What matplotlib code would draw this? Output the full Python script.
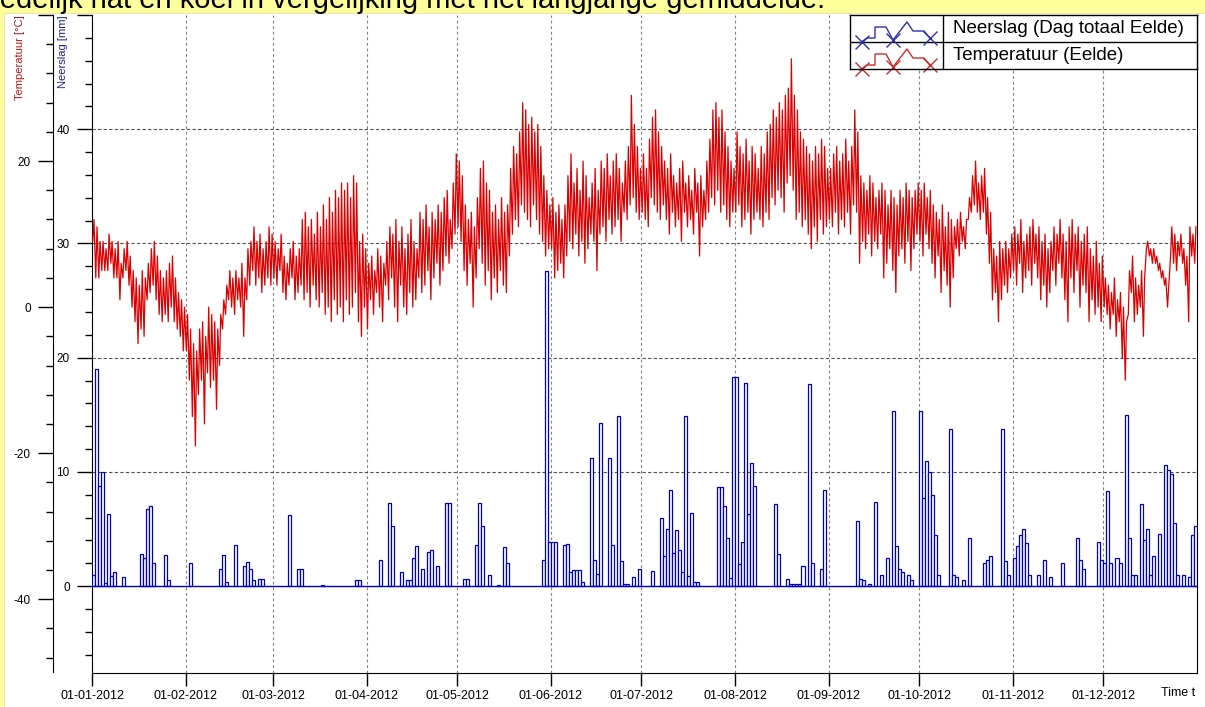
import numpy as np
from matplotlib import pyplot as plt
from matplotlib.patches import Rectangle

plt.rcParams['font.family'] = ['Liberation Sans', 'DejaVu Sans']

# x axis: day number since 01-01-2012 (leap year, 366 days)
month_start = [0, 31, 60, 91, 121, 152, 182, 213, 244, 274, 305, 335]
month_label = ['01-01-2012', '01-02-2012', '01-03-2012', '01-04-2012',
               '01-05-2012', '01-06-2012', '01-07-2012', '01-08-2012',
               '01-09-2012', '01-10-2012', '01-11-2012', '01-12-2012']
n_days = 366

# daily max / min temperature Eelde [C]
tmax = [12, 11, 9, 9, 8, 10, 9, 8, 9, 6, 8, 9, 7, 5, 4, 3, 5, 4, 6, 8, 9, 7, 5, 4, 5, 6, 7, 4, 2, 1, 0,
        -1, -3, -5, -6, -3, -2, -4, 0, -1, -2, -3, -1, 1, 3, 5, 4, 5, 4, 6, 4, 8, 9, 11, 9, 10, 8, 9, 11, 10,
        9, 8, 10, 7, 6, 8, 9, 7, 8, 12, 13, 11, 12, 10, 13, 11, 14, 12, 15, 13, 16, 15, 17, 16, 17, 15, 18, 17, 9, 10, 8,
        6, 7, 5, 8, 7, 6, 9, 11, 10, 12, 9, 11, 8, 10, 12, 9, 8, 13, 12, 14, 11, 13, 12, 14, 13, 15, 16, 12, 17, 21,
        20, 18, 14, 12, 13, 11, 15, 19, 20, 17, 16, 13, 14, 12, 15, 13, 14, 19, 22, 21, 24, 28, 27, 25, 26, 24, 25, 22, 18, 16, 14,
        15, 13, 14, 12, 14, 18, 21, 17, 19, 16, 20, 18, 15, 17, 19, 16, 20, 19, 21, 18, 20, 21, 19, 17, 20, 22, 29, 25, 22, 19,
        21, 19, 23, 26, 27, 24, 22, 20, 19, 21, 18, 17, 19, 20, 17, 18, 16, 19, 17, 18, 16, 20, 23, 27, 28, 26, 27, 24, 22, 20, 19,
        24, 22, 21, 23, 20, 22, 21, 19, 22, 21, 24, 25, 27, 26, 28, 27, 29, 30, 34, 29, 27, 24, 23, 22, 21, 20, 22, 21, 23, 22, 19,
        19, 21, 22, 20, 21, 23, 20, 22, 27, 24, 18, 17, 16, 18, 17, 15, 16, 17, 16, 14, 16, 15, 14, 16, 15, 17, 16, 15, 16, 17,
        16, 17, 15, 16, 14, 13, 12, 14, 11, 13, 12, 11, 12, 13, 11, 12, 15, 18, 20, 17, 18, 19, 15, 13, 8, 7, 9, 8, 9, 8, 10,
        11, 10, 12, 9, 10, 11, 12, 10, 11, 9, 10, 8, 9, 11, 10, 12, 10, 9, 11, 12, 10, 11, 9, 10, 11, 8, 7, 9, 6, 7,
        4, 3, 2, 4, 1, 2, 0, -2, 5, 7, 4, 3, 5, 4, 9, 8, 8, 7, 6, 5, 4, 3, 11, 10, 9, 10, 8, 7, 11, 10, 11]
tmin = [9, 4, 4, 5, 5, 5, 6, 4, 4, 1, 4, 5, 3, 0, -2, -5, -3, -4, 1, 2, 3, 1, -1, -2, -1, -2, 0, -2, -3, -4, -6,
        -6, -10, -15, -19, -12, -10, -16, -9, -11, -10, -14, -8, -3, -1, 1, 0, -1, 1, 0, -4, 1, 3, 5, 3, 4, 2, 3, 4, 3,
        4, 3, 5, 2, 1, 3, 4, 1, 2, 3, 1, 2, 0, 3, 1, 0, 2, -1, 0, -2, 1, -1, 0, -2, 1, -1, 0, 2, -2, -4, 0,
        -3, 1, -1, 2, 0, -2, 3, 1, 4, 0, -2, 3, 0, -1, 2, 0, 1, 4, 2, 3, 5, 1, 4, 6, 3, 5, 7, 6, 8, 10,
        11, 9, 5, 3, 6, 0, 4, 8, 6, 3, 5, 1, 4, 2, 5, 3, 2, 7, 10, 12, 11, 14, 13, 12, 11, 14, 12, 10, 9, 7, 8,
        8, 4, 5, 6, 4, 7, 9, 8, 10, 7, 9, 6, 8, 10, 9, 5, 10, 11, 9, 12, 10, 11, 12, 9, 13, 12, 14, 15, 13, 12,
        13, 12, 11, 15, 14, 13, 12, 14, 12, 10, 13, 11, 12, 9, 13, 11, 12, 10, 13, 7, 11, 12, 13, 15, 14, 16, 13, 14, 12, 11, 13,
        13, 14, 11, 12, 13, 10, 12, 13, 12, 11, 13, 12, 15, 14, 16, 15, 13, 17, 18, 16, 12, 13, 11, 12, 10, 8, 11, 9, 12, 10, 11,
        12, 11, 13, 10, 12, 11, 13, 10, 14, 13, 6, 9, 8, 10, 7, 9, 8, 10, 4, 6, 8, 5, 2, 7, 8, 6, 9, 5, 8, 10,
        9, 7, 10, 8, 6, 4, 7, 2, 5, 3, 0, 4, 8, 7, 9, 8, 12, 13, 14, 13, 12, 13, 10, 6, 1, 2, -2, 1, 3, 2, 4,
        5, 3, 6, 2, 4, 5, 3, 6, 4, 1, 3, 0, 2, 5, 3, 6, 4, 1, -2, 4, 2, 5, 0, 3, 2, -2, 1, -1, 0, -2,
        0, -1, -3, -1, -4, -2, -7, -10, -1, 2, -2, -1, 0, -4, 8, 7, 6, 6, 5, 4, 3, 0, 7, 6, 5, 7, 6, 3, -2, 7, 6]

# daily precipitation Eelde [mm] (only the wet days)
rain_day = [0, 1, 2, 3, 4, 5, 6, 7, 10, 16, 17, 18, 19, 20, 24, 25,
            32, 42, 43, 44, 47, 50, 51, 52, 53, 55, 56,
            65, 68, 69, 76, 87, 88,
            95, 98, 99, 102, 104, 105, 106, 107, 109, 111, 112, 114, 117, 118,
            123, 124, 127, 128, 129, 131, 134, 136, 137, 149, 150,
            151, 152, 153, 156, 157, 158, 159, 160, 161, 162, 165, 166, 167, 168, 171, 172, 174, 175, 176, 177, 179, 181,
            185, 188, 189, 190, 191, 192, 193, 194, 195, 196, 197, 198, 199, 200, 207, 208, 209, 210, 211,
            212, 213, 214, 215, 216, 217, 218, 219, 226, 227, 230, 231, 232, 233, 234, 235, 237, 238, 241, 242,
            253, 254, 255, 257, 259, 261, 263, 265, 266, 267, 268, 270, 271,
            274, 275, 276, 277, 278, 279, 280, 284, 285, 286, 288, 290, 295, 296, 297, 301, 302, 303,
            305, 306, 307, 308, 309, 310, 313, 315, 317, 321, 326, 327, 328, 333, 334,
            335, 336, 337, 339, 340, 342, 343, 344, 345, 347, 348, 349, 350, 351, 353, 355, 356, 357, 358, 359, 361, 363, 364, 365]
rain_mm = [1.0, 19.0, 8.8, 10.0, 0.3, 6.3, 0.9, 1.2, 0.8, 2.8, 2.5, 6.8, 7.0, 2.0, 2.7, 0.5,
           2.0, 1.5, 2.7, 0.4, 3.6, 1.8, 2.1, 1.5, 0.5, 0.6, 0.6,
           6.2, 1.5, 1.5, 0.1, 0.5, 0.5,
           2.3, 7.3, 5.3, 1.2, 0.5, 0.5, 2.5, 3.5, 1.5, 3.0, 3.2, 1.8, 7.3, 7.3,
           0.6, 0.6, 3.6, 7.3, 5.3, 1.0, 0.1, 3.4, 2.0, 2.3, 27.6,
           3.9, 3.9, 3.9, 3.6, 3.7, 1.25, 1.4, 1.4, 1.4, 0.4, 11.2, 2.3, 1.1, 14.3, 11.2, 3.6, 14.9, 2.2, 0.2, 0.2, 0.8, 1.5,
           1.3, 6.0, 2.6, 5.0, 8.4, 2.9, 4.9, 3.2, 1.2, 14.9, 0.9, 6.4, 0.4, 0.4, 8.7, 8.7, 7.0, 4.2, 0.7,
           18.3, 18.3, 1.9, 3.9, 17.8, 6.3, 10.8, 8.8, 7.2, 2.8, 0.6, 0.2, 0.2, 0.2, 0.2, 1.8, 17.7, 2.0, 1.5, 8.4,
           5.7, 0.6, 0.5, 0.2, 7.4, 1.0, 2.5, 15.3, 3.5, 1.5, 1.2, 1.0, 0.5,
           15.3, 7.7, 11.0, 10.0, 8.0, 4.5, 1.0, 13.8, 1.0, 0.8, 0.5, 4.2, 2.0, 2.3, 2.6, 13.8, 2.2, 1.0,
           2.5, 3.5, 4.5, 5.0, 3.8, 1.0, 1.0, 2.3, 0.8, 2.0, 4.2, 2.3, 1.5, 3.9, 2.3,
           2.0, 8.3, 2.0, 2.5, 2.0, 15.0, 4.2, 1.0, 1.0, 7.2, 4.0, 5.0, 1.0, 2.6, 4.6, 10.6, 10.2, 9.8, 5.5, 1.0, 1.0, 0.8, 4.5, 5.3]

rain_major = [0, 10, 20, 30, 40, 50]
temp_major = [-40, -20, 0, 20, 40]

W, H = 1205, 707


def fx(px):
    return px / W


def fy(py):
    return 1 - py / H


fig = plt.figure(figsize=(W / 100, H / 100), dpi=100, facecolor='#ffff9c')
fig.patches.append(Rectangle((fx(4), 0), 1, fy(13), transform=fig.transFigure,
                             facecolor='white', edgecolor='#e8e8b0', lw=0.8, zorder=-5))
# page text above the chart, cut off by the screenshot edge as in the original
fig.text(fx(-10), fy(8), 'redelijk nat en koel in vergelijking met het langjarige gemiddelde.',
         fontsize=21, va='baseline', ha='left', color='black', zorder=-4)

ax = fig.add_axes([fx(92), fy(673), fx(1197) - fx(92), fy(15) - fy(673)])
ax.set_facecolor('white')
axT = ax.twinx()

# grid
for m in month_start[1:]:
    ax.axvline(m, color='#808080', lw=0.8, ls=(0, (2.5, 2.5)), zorder=1)
for v in rain_major[1:-1]:
    ax.axhline(v, color='#505050', lw=0.8, ls=(0, (3, 2)), zorder=1)

# precipitation
ax.bar(rain_day, rain_mm, width=1.0, align='edge', facecolor='white',
       edgecolor='#0000b8', linewidth=0.9, zorder=3)
ax.axhline(0, color='#0000c0', lw=1.0, zorder=4)

# temperature: morning minimum, afternoon maximum
days = np.arange(n_days)
tx = np.column_stack([days + 0.25, days + 0.65]).ravel()
ty = np.column_stack([tmin, tmax]).ravel()
axT.plot(tx, ty, color='#dd0000', lw=0.9, zorder=5)

ax.set_xlim(0, n_days)
ax.set_ylim(-7.6, 50)
axT.set_ylim(-50.1, 40)

ax.set_xticks(month_start)
ax.set_xticklabels(month_label)
ax.tick_params(axis='x', direction='out', length=9, width=1, pad=3, labelsize=9)

ax.set_yticks(rain_major)
ax.set_yticklabels([str(v) for v in rain_major[:-1]] + [''])
ax.set_yticks(np.arange(-6, 50, 2), minor=True)
ax.tick_params(axis='y', which='major', direction='out', length=11, width=1, pad=5, labelsize=8.5)
ax.tick_params(axis='y', which='minor', direction='out', length=5, width=1)

axT.yaxis.set_ticks_position('left')
axT.spines['left'].set_position(('outward', 28))
axT.spines['left'].set_bounds(-50, 40)
axT.set_yticks(temp_major)
axT.set_yticklabels([str(v) for v in temp_major[:-1]] + [''])
axT.set_yticks(np.arange(-48, 40, 4), minor=True)
axT.tick_params(axis='y', which='major', direction='out', length=11, width=1, pad=5, labelsize=8.5)
axT.tick_params(axis='y', which='minor', direction='out', length=5, width=1)

ax.spines['top'].set_visible(False)
for s in ['top', 'right', 'bottom']:
    axT.spines[s].set_visible(False)

fig.text(fx(20), fy(15), 'Temperatuur [°C]', rotation=90, va='top', ha='center',
         color='#b01818', fontsize=8)
fig.text(fx(63), fy(15), 'Neerslag [mm]', rotation=90, va='top', ha='center',
         color='#20208c', fontsize=8)
fig.text(fx(1195), fy(693), 'Time t', ha='right', va='center', fontsize=9)

# legend box drawn as a small table in pixel coordinates
lax = fig.add_axes([fx(850), fy(69), fx(1197) - fx(850), fy(15) - fy(69)])
lax.set_xlim(850, 1197)
lax.set_ylim(69, 15)
lax.set_xticks([])
lax.set_yticks([])
lax.set_facecolor('white')
for s in lax.spines.values():
    s.set_linewidth(1)
lax.axvline(943, color='black', lw=1)
lax.axhline(42, color='black', lw=1)
sx = [860, 867, 870, 875, 875, 886, 893, 907, 913, 924, 930]
sy = [28, 23, 23, 23, 12, 12, 25, 7, 16, 16, 23]
mx = [862, 893, 930]
my = [27, 25, 23]
names = ['Neerslag (Dag totaal Eelde)', 'Temperatuur (Eelde)']
colors = ['#3030a8', '#c83030']
for i in range(2):
    top = 15 + 27 * i
    lax.plot(sx, [top + v for v in sy], color=colors[i], lw=1, clip_on=False)
    lax.plot(mx, [top + v for v in my], ls='none', marker='x', ms=10, mew=1,
             color=colors[i], clip_on=False)
    lax.text(953, top + 13.5, names[i], va='center', ha='left', fontsize=13.5)

fig.savefig('out.png', dpi=100, facecolor=fig.get_facecolor())
